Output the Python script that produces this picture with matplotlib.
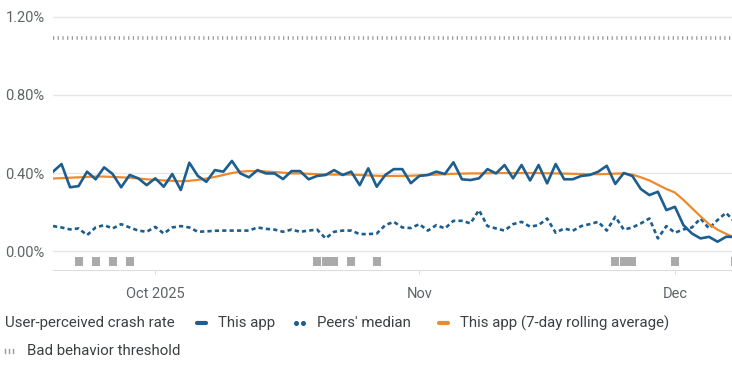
import matplotlib
matplotlib.use("Agg")
import matplotlib.pyplot as plt
from matplotlib.lines import Line2D
import pandas as pd

plt.rcParams['font.family'] = ['Roboto', 'DejaVu Sans']

# daily data, starting Sep 19 2025
dates = pd.date_range('2025-09-19', periods=81, freq='D')

this_app = [0.407, 0.446, 0.327, 0.333, 0.407, 0.368, 0.429, 0.395, 0.327, 0.390,
            0.373, 0.338, 0.373, 0.330, 0.395, 0.313, 0.453, 0.385, 0.355, 0.415,
            0.407, 0.462, 0.398, 0.378, 0.415, 0.398, 0.398, 0.369, 0.410, 0.410,
            0.368, 0.385, 0.390, 0.415, 0.390, 0.407, 0.338, 0.424, 0.330, 0.390,
            0.420, 0.420, 0.348, 0.385, 0.390, 0.407, 0.395, 0.455, 0.368, 0.364,
            0.373, 0.420, 0.398, 0.441, 0.373, 0.441, 0.362, 0.441, 0.347, 0.446,
            0.368, 0.368, 0.385, 0.390, 0.407, 0.437, 0.344, 0.400, 0.385, 0.318,
            0.287, 0.304, 0.210, 0.227, 0.133, 0.090, 0.065, 0.073, 0.048, 0.073,
            0.073]

peers = [0.128, 0.121, 0.111, 0.116, 0.082, 0.121, 0.133, 0.116, 0.138, 0.121,
         0.105, 0.099, 0.124, 0.090, 0.121, 0.128, 0.121, 0.099, 0.101, 0.104,
         0.105, 0.105, 0.105, 0.105, 0.121, 0.114, 0.110, 0.099, 0.110, 0.099,
         0.105, 0.110, 0.065, 0.099, 0.105, 0.105, 0.087, 0.087, 0.090, 0.133,
         0.150, 0.121, 0.118, 0.138, 0.105, 0.133, 0.116, 0.155, 0.155, 0.142,
         0.210, 0.128, 0.116, 0.105, 0.138, 0.150, 0.125, 0.133, 0.167, 0.094,
         0.116, 0.104, 0.128, 0.138, 0.150, 0.105, 0.176, 0.110, 0.121, 0.142,
         0.167, 0.065, 0.128, 0.094, 0.111, 0.121, 0.167, 0.116, 0.159, 0.196,
         0.150]

rolling = [0.372, 0.374, 0.376, 0.378, 0.380, 0.382, 0.382, 0.380, 0.378, 0.376,
           0.372, 0.368, 0.365, 0.362, 0.360, 0.358, 0.360, 0.365, 0.372, 0.380,
           0.390, 0.400, 0.407, 0.410, 0.410, 0.408, 0.405, 0.402, 0.398, 0.398,
           0.396, 0.394, 0.393, 0.392, 0.392, 0.392, 0.390, 0.388, 0.386, 0.385,
           0.385, 0.385, 0.386, 0.388, 0.390, 0.392, 0.394, 0.396, 0.397, 0.398,
           0.398, 0.399, 0.400, 0.400, 0.400, 0.400, 0.400, 0.400, 0.399, 0.398,
           0.397, 0.396, 0.395, 0.394, 0.394, 0.395, 0.397, 0.398, 0.392, 0.378,
           0.362, 0.340, 0.318, 0.300, 0.262, 0.220, 0.178, 0.138, 0.110, 0.088,
           0.070]

threshold = 1.09

# days with release / event markers
event_days = ['2025-09-22', '2025-09-24', '2025-09-26', '2025-09-28',
              '2025-10-20', '2025-10-21', '2025-10-22', '2025-10-24', '2025-10-27',
              '2025-11-24', '2025-11-25', '2025-11-26', '2025-12-01', '2025-12-08']

y_ticks = [0.0, 0.4, 0.8, 1.2]

BLUE = '#1b5e8f'
ORANGE = '#ef8a2a'
GRAY = '#9a9a9a'

fig = plt.figure(figsize=(7.32, 3.66), dpi=100)
W, H = 732, 366
ax = fig.add_axes([53 / W, 1 - 270 / H, 1 - 53 / W, (270 - 15) / H])

ax.plot(dates, [threshold] * len(dates), color=GRAY, lw=2.6,
        linestyle=(0, (0.35, 0.95)))
ax.plot(dates, peers, color=BLUE, lw=1.9, linestyle=(0, (1.6, 1.2)))
ax.plot(dates, rolling, color=ORANGE, lw=1.6)
ax.plot(dates, this_app, color=BLUE, lw=1.9)

ev = pd.to_datetime(event_days)
ax.bar(ev, [0.046] * len(ev), bottom=-0.074, width=0.95, color='#aaaaaa')

ax.set_xlim(dates[0], dates[0] + pd.Timedelta(days=79.7))
ax.set_ylim(-0.097, 1.21)

ax.set_yticks(y_ticks)
ax.set_yticklabels([f'{v:.2f}%' for v in y_ticks])
ax.yaxis.grid(True, color='#e6e6e6', lw=1)
ax.set_axisbelow(True)
ax.tick_params(axis='y', length=0, pad=6, labelsize=10.5, labelcolor='#5f6368')

month_ticks = pd.to_datetime(['2025-10-01', '2025-11-01', '2025-12-01'])
ax.set_xticks(month_ticks)
ax.set_xticklabels(['Oct 2025', 'Nov', 'Dec'])
ax.tick_params(axis='x', length=3, color='#dadce0', pad=9, labelsize=10.5,
               labelcolor='#5f6368')

for s in ['top', 'right', 'left']:
    ax.spines[s].set_visible(False)
ax.spines['bottom'].set_color('#dadce0')

# legend drawn by hand
def fx(px):
    return px / W

def fy(py):
    return 1 - py / H

txt = dict(fontsize=10.8, color='#3c4043', va='center', ha='left')
fig.text(fx(5), fy(323), 'User-perceived crash rate', **txt)
fig.add_artist(Line2D([fx(197), fx(206)], [fy(323), fy(323)], color=BLUE, lw=3,
                      solid_capstyle='round'))
fig.text(fx(218), fy(323), 'This app', **txt)
fig.add_artist(Line2D([fx(296), fx(303)], [fy(323), fy(323)], color=BLUE, lw=0,
                      marker='o', markersize=2.6))
fig.text(fx(317), fy(323), "Peers' median", **txt)
fig.add_artist(Line2D([fx(439), fx(448)], [fy(323), fy(323)], color=ORANGE, lw=3,
                      solid_capstyle='round'))
fig.text(fx(460), fy(323), 'This app (7-day rolling average)', **txt)
for px in [5, 9, 13]:
    fig.add_artist(Line2D([fx(px), fx(px)], [fy(349), fy(353)], color=GRAY, lw=1))
fig.text(fx(27), fy(351), 'Bad behavior threshold', **txt)

fig.savefig('out.png', dpi=100)
